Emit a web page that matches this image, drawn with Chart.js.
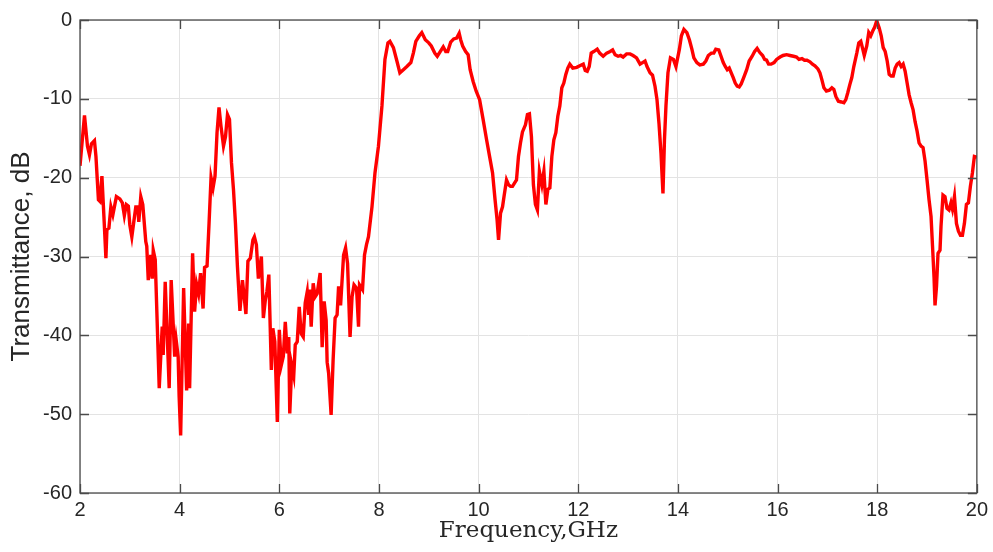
<!DOCTYPE html>
<html>
<head>
<meta charset="utf-8">
<script src="https://cdn.jsdelivr.net/npm/chart.js@4.4.1/dist/chart.umd.min.js"></script>
<style>
  html, body { margin: 0; padding: 0; background: #fff; }
  canvas { display: block; }
</style>
</head>
<body>
<canvas id="transChart" width="993" height="552"></canvas>
<script>
// ==================== DATA ====================
const freqGHz = [
  2.00, 2.09, 2.15, 2.19, 2.23, 2.29, 2.32, 2.37, 2.40, 2.44, 2.48, 2.52, 2.54, 2.58, 2.62, 2.66,
  2.73, 2.80, 2.85, 2.89, 2.93, 2.97, 3.00, 3.04, 3.08, 3.12, 3.16, 3.18, 3.22, 3.26, 3.32, 3.34,
  3.37, 3.42, 3.45, 3.47, 3.51, 3.59, 3.65, 3.67, 3.71, 3.79, 3.83, 3.90, 3.93, 3.97, 3.99, 4.02,
  4.08, 4.14, 4.18, 4.20, 4.26, 4.30, 4.34, 4.38, 4.42, 4.47, 4.50, 4.55, 4.59, 4.63, 4.67, 4.71,
  4.75, 4.79, 4.83, 4.88, 4.92, 4.96, 5.00, 5.04, 5.08, 5.12, 5.16, 5.21, 5.26, 5.33, 5.37, 5.42,
  5.47, 5.50, 5.54, 5.58, 5.64, 5.68, 5.72, 5.75, 5.79, 5.84, 5.87, 5.91, 5.96, 6.00, 6.04, 6.08,
  6.12, 6.16, 6.19, 6.21, 6.25, 6.29, 6.32, 6.36, 6.40, 6.44, 6.48, 6.52, 6.56, 6.59, 6.61, 6.64,
  6.68, 6.72, 6.76, 6.82, 6.86, 6.90, 6.94, 6.96, 6.99, 7.04, 7.08, 7.12, 7.16, 7.19, 7.23, 7.29,
  7.33, 7.37, 7.42, 7.46, 7.50, 7.55, 7.59, 7.61, 7.67, 7.71, 7.75, 7.79, 7.86, 7.92, 7.99, 8.06,
  8.12, 8.18, 8.22, 8.29, 8.36, 8.42, 8.49, 8.56, 8.64, 8.69, 8.74, 8.81, 8.86, 8.93, 9.00, 9.05,
  9.12, 9.17, 9.22, 9.29, 9.34, 9.38, 9.44, 9.50, 9.56, 9.61, 9.64, 9.68, 9.74, 9.79, 9.83, 9.89,
  9.95, 10.02, 10.09, 10.16, 10.22, 10.28, 10.33, 10.37, 10.40, 10.44, 10.48, 10.51, 10.56, 10.60, 10.64, 10.68,
  10.72, 10.76, 10.80, 10.84, 10.88, 10.94, 10.98, 11.02, 11.06, 11.10, 11.14, 11.18, 11.22, 11.27, 11.31, 11.35,
  11.39, 11.43, 11.47, 11.51, 11.55, 11.59, 11.63, 11.67, 11.71, 11.75, 11.79, 11.83, 11.89, 11.97, 12.03, 12.10,
  12.14, 12.18, 12.22, 12.26, 12.31, 12.38, 12.43, 12.50, 12.57, 12.64, 12.69, 12.74, 12.80, 12.85, 12.90, 12.97,
  13.04, 13.10, 13.17, 13.24, 13.29, 13.34, 13.38, 13.44, 13.49, 13.54, 13.58, 13.62, 13.66, 13.70, 13.73, 13.76,
  13.80, 13.85, 13.91, 13.96, 14.03, 14.07, 14.12, 14.18, 14.23, 14.28, 14.32, 14.38, 14.44, 14.51, 14.56, 14.61,
  14.67, 14.72, 14.76, 14.82, 14.86, 14.91, 14.95, 14.99, 15.03, 15.07, 15.11, 15.15, 15.19, 15.23, 15.27, 15.32,
  15.38, 15.43, 15.49, 15.54, 15.59, 15.64, 15.70, 15.74, 15.78, 15.82, 15.87, 15.93, 15.98, 16.05, 16.11, 16.18,
  16.25, 16.32, 16.38, 16.43, 16.49, 16.54, 16.59, 16.65, 16.70, 16.75, 16.81, 16.85, 16.89, 16.93, 16.98, 17.04,
  17.09, 17.13, 17.17, 17.22, 17.28, 17.33, 17.37, 17.41, 17.45, 17.49, 17.53, 17.59, 17.63, 17.67, 17.71, 17.74,
  17.79, 17.83, 17.87, 17.91, 17.95, 17.99, 18.04, 18.08, 18.12, 18.16, 18.20, 18.24, 18.28, 18.32, 18.36, 18.40,
  18.44, 18.48, 18.52, 18.56, 18.60, 18.64, 18.68, 18.72, 18.76, 18.80, 18.84, 18.88, 18.92, 18.96, 19.00, 19.04,
  19.08, 19.11, 19.14, 19.16, 19.19, 19.22, 19.26, 19.28, 19.32, 19.36, 19.40, 19.44, 19.48, 19.51, 19.55, 19.59,
  19.63, 19.67, 19.71, 19.75, 19.79, 19.83, 19.87, 19.91, 19.95, 20.00
];

const transDB = [
  -18.5, -12.1, -16.0, -17.1, -15.7, -15.3, -17.3, -22.8, -23.0, -19.8, -24.9, -30.2, -26.6, -26.4, -23.7, -24.7,
  -22.4, -22.7, -23.2, -24.8, -23.4, -23.6, -26.0, -27.5, -25.6, -23.7, -23.7, -25.6, -22.4, -23.4, -28.1, -28.7,
  -33.0, -29.8, -32.8, -29.2, -30.4, -46.7, -38.9, -42.5, -33.2, -46.7, -33.0, -42.7, -40.6, -42.7, -47.8, -52.7,
  -34.0, -47.0, -38.5, -46.7, -29.6, -37.0, -33.5, -34.7, -32.1, -36.6, -31.4, -31.2, -25.8, -20.0, -21.3, -19.8,
  -14.3, -11.1, -13.5, -16.0, -14.8, -12.0, -12.6, -18.1, -21.5, -25.8, -31.3, -36.9, -33.0, -37.3, -30.6, -30.2,
  -27.9, -27.5, -28.5, -32.8, -30.0, -37.8, -35.5, -34.5, -32.3, -44.4, -39.1, -40.8, -51.0, -39.3, -43.8, -42.7,
  -38.3, -42.3, -40.2, -49.9, -43.8, -45.1, -41.2, -40.8, -36.4, -39.8, -40.2, -35.9, -34.5, -37.4, -34.2, -38.9,
  -33.4, -35.1, -34.7, -32.1, -41.5, -35.7, -38.1, -43.4, -44.8, -50.1, -43.1, -37.8, -37.4, -33.8, -36.2, -29.8,
  -28.9, -30.9, -40.2, -35.1, -33.6, -34.0, -38.9, -33.6, -34.2, -29.8, -28.5, -27.5, -23.7, -19.4, -16.0, -10.9,
  -5.0, -2.9, -2.7, -3.5, -5.2, -6.7, -6.3, -5.9, -5.4, -4.2, -2.7, -2.0, -1.6, -2.5, -2.9, -3.3,
  -4.2, -4.6, -4.1, -3.4, -4.0, -4.0, -2.8, -2.4, -2.3, -1.7, -2.5, -3.3, -4.0, -4.4, -6.3, -7.8,
  -9.0, -10.1, -12.6, -15.2, -17.3, -19.4, -22.8, -25.3, -27.9, -24.5, -23.7, -22.4, -20.3, -20.9, -21.1, -21.1,
  -20.7, -20.3, -17.3, -15.6, -14.2, -13.3, -12.0, -11.9, -14.8, -20.9, -23.4, -24.1, -19.2, -20.9, -19.2, -23.4,
  -21.5, -21.3, -17.3, -15.2, -14.3, -12.2, -10.9, -8.6, -8.0, -6.9, -6.1, -5.6, -6.1, -6.0, -5.8, -5.6,
  -6.4, -6.5, -5.9, -4.2, -4.0, -3.7, -4.2, -4.6, -4.2, -4.0, -3.8, -4.4, -4.6, -4.5, -4.7, -4.3,
  -4.3, -4.5, -4.8, -5.6, -5.4, -5.2, -5.9, -6.7, -7.0, -8.4, -10.1, -13.1, -16.9, -22.0, -15.2, -10.9,
  -6.7, -4.8, -5.0, -5.9, -3.7, -2.0, -1.2, -1.6, -2.5, -3.7, -4.8, -5.4, -5.7, -5.6, -5.2, -4.5,
  -4.2, -4.2, -3.7, -3.8, -4.5, -5.4, -5.9, -6.3, -6.1, -6.7, -7.3, -8.0, -8.4, -8.5, -8.1, -7.3,
  -6.3, -5.2, -4.6, -4.0, -3.6, -4.1, -4.5, -5.0, -5.1, -5.6, -5.6, -5.4, -5.0, -4.7, -4.5, -4.4,
  -4.5, -4.6, -4.7, -5.0, -4.9, -5.1, -5.1, -5.3, -5.6, -5.8, -6.2, -6.7, -7.6, -8.6, -9.0, -8.9,
  -8.6, -8.8, -9.7, -10.3, -10.4, -10.5, -10.1, -9.2, -8.2, -7.3, -5.9, -4.2, -2.9, -2.7, -3.7, -4.5,
  -3.3, -1.6, -2.0, -1.4, -0.9, -0.1, -1.0, -2.0, -3.5, -4.0, -5.2, -6.9, -7.1, -7.1, -6.1, -5.6,
  -5.4, -5.9, -5.6, -6.5, -8.0, -9.5, -10.5, -11.4, -12.9, -14.1, -15.6, -16.0, -16.2, -17.9, -20.3, -22.8,
  -24.9, -28.7, -32.6, -36.2, -33.8, -29.6, -29.2, -26.2, -22.2, -22.4, -23.9, -24.1, -23.2, -24.0, -22.4, -25.8,
  -26.8, -27.3, -27.3, -25.8, -23.4, -23.2, -21.1, -19.4, -17.3, -17.4
];

const xTicks = [2, 4, 6, 8, 10, 12, 14, 16, 18, 20];
const yTicks = [-60, -50, -40, -30, -20, -10, 0];

// ==================== CHART ====================
const axisColor = '#262626';
const frameColor = '#4a4a4a';
const gridColor = '#e3e3e3';

// box around the plot with short inward ticks on all four sides
const boxFrame = {
  id: 'boxFrame',
  afterDraw(chart) {
    const { ctx, chartArea: a, scales: { x, y } } = chart;
    const len = 9;
    ctx.save();
    ctx.strokeStyle = frameColor;
    ctx.lineWidth = 1.3;
    ctx.strokeRect(a.left, a.top, a.right - a.left, a.bottom - a.top);
    ctx.beginPath();
    xTicks.forEach(v => {
      const px = Math.round(x.getPixelForValue(v)) + 0.5;
      ctx.moveTo(px, a.bottom); ctx.lineTo(px, a.bottom - len);
      ctx.moveTo(px, a.top); ctx.lineTo(px, a.top + len);
    });
    yTicks.forEach(v => {
      const py = Math.round(y.getPixelForValue(v)) + 0.5;
      ctx.moveTo(a.left, py); ctx.lineTo(a.left + len, py);
      ctx.moveTo(a.right, py); ctx.lineTo(a.right - len, py);
    });
    ctx.stroke();
    ctx.restore();
  }
};

const points = freqGHz.map((f, i) => ({ x: f, y: transDB[i] }));

new Chart(document.getElementById('transChart'), {
  type: 'line',
  data: {
    datasets: [{
      data: points,
      borderColor: '#ff0000',
      borderWidth: 3.4,
      pointRadius: 0,
      tension: 0,
      fill: false
    }]
  },
  options: {
    responsive: false,
    animation: false,
    devicePixelRatio: 1,
    layout: { padding: { top: 20, right: 16, left: 0, bottom: 0 } },
    plugins: { legend: { display: false }, tooltip: { enabled: false } },
    scales: {
      x: {
        type: 'linear',
        min: 2, max: 20,
        afterFit: s => { s.height = 59; },
        afterBuildTicks: s => { s.ticks = xTicks.map(v => ({ value: v })); },
        grid: { color: gridColor, drawTicks: false },
        border: { display: false },
        ticks: { color: axisColor, padding: 5, maxRotation: 0, font: { family: 'Liberation Sans', size: 20 } },
        title: {
          display: true,
          text: 'Frequency,GHz',
          color: axisColor,
          padding: { top: 0, bottom: 8 },
          font: { family: 'DejaVu Serif', size: 23, lineHeight: 1.1 }
        }
      },
      y: {
        min: -60, max: 0,
        afterFit: s => { s.width = 80; },
        afterBuildTicks: s => { s.ticks = yTicks.map(v => ({ value: v })); },
        grid: { color: gridColor, drawTicks: false },
        border: { display: false },
        ticks: { color: axisColor, padding: 8, font: { family: 'Liberation Sans', size: 20 } },
        title: {
          display: true,
          text: 'Transmittance, dB',
          color: axisColor,
          padding: { top: 6, bottom: 0 },
          font: { family: 'Liberation Sans', size: 26, lineHeight: 1.2 }
        }
      }
    }
  },
  plugins: [boxFrame]
});
</script>
</body>
</html>
